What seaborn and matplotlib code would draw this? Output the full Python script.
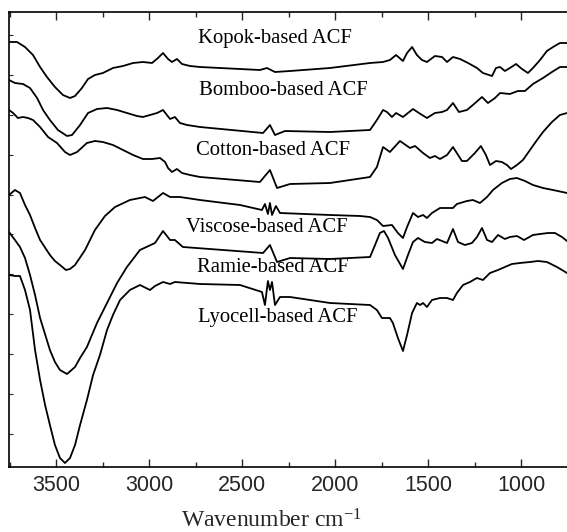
import numpy as np
import pandas as pd
import matplotlib
matplotlib.use("Agg")
import matplotlib.pyplot as plt
from matplotlib.ticker import MultipleLocator
import seaborn as sns

# ---- data (wavenumber cm^-1, offset transmittance, arbitrary units) ----
kopok_wn = [3753, 3710, 3667, 3624, 3586, 3549, 3506, 3463, 3425, 3398, 3361, 3328, 3291, 3248, 3194,
            3140, 3086, 3033, 2984, 2952, 2925, 2898, 2877, 2850, 2823, 2780, 2726, 2404, 2366, 2323,
            2242, 2027, 1812, 1742, 1705, 1672, 1635, 1613, 1586, 1560, 1533, 1506, 1463, 1425, 1398,
            1366, 1328, 1285, 1237, 1205, 1156, 1135, 1113, 1087, 1060, 1027, 995, 963, 936, 898,
            861, 828, 791, 753]
kopok_y = [425, 425, 420, 412, 400, 390, 380, 372, 369, 371, 379, 388, 392, 394, 399,
           401, 404, 405, 404, 409, 414, 408, 405, 408, 403, 401, 400, 397, 399, 395,
           396, 399, 404, 405, 407, 412, 406, 414, 420, 412, 407, 405, 411, 410, 405,
           410, 408, 404, 399, 394, 391, 399, 400, 396, 399, 403, 398, 394, 399, 407,
           416, 420, 424, 424]

bamboo_wn = [3753, 3721, 3678, 3640, 3602, 3570, 3533, 3490, 3441, 3414, 3371, 3328, 3280, 3226, 3172,
             3119, 3065, 3033, 2995, 2957, 2925, 2904, 2887, 2861, 2834, 2796, 2726, 2387, 2350, 2323,
             2269, 2027, 1812, 1775, 1742, 1721, 1694, 1672, 1635, 1581, 1549, 1506, 1463, 1425, 1398,
             1366, 1334, 1291, 1259, 1210, 1178, 1140, 1113, 1060, 1017, 979, 936, 882, 834, 791, 753]
bamboo_y = [387, 384, 383, 379, 369, 357, 347, 337, 331, 332, 342, 354, 358, 359, 357,
            354, 351, 350, 352, 354, 357, 352, 348, 350, 344, 342, 340, 334, 342, 332,
            336, 335, 337, 347, 357, 355, 350, 354, 350, 358, 354, 349, 354, 355, 357,
            364, 355, 357, 362, 370, 364, 369, 374, 373, 376, 376, 383, 389, 395, 400, 400]

cotton_wn = [3753, 3731, 3705, 3678, 3651, 3624, 3586, 3543, 3495, 3452, 3425, 3387, 3334, 3291, 3248,
             3194, 3140, 3086, 3033, 2984, 2941, 2914, 2898, 2877, 2850, 2823, 2780, 2726, 2404, 2350,
             2312, 2242, 2027, 1812, 1775, 1742, 1705, 1651, 1597, 1570, 1527, 1490, 1463, 1436, 1398,
             1366, 1318, 1291, 1248, 1216, 1189, 1167, 1135, 1103, 1076, 1054, 1022, 990, 952, 914,
             882, 834, 791, 753]
cotton_y = [357, 354, 349, 350, 349, 347, 340, 330, 324, 315, 312, 315, 324, 326, 325,
            322, 317, 312, 308, 308, 309, 305, 299, 295, 298, 294, 292, 290, 285, 297,
            279, 283, 284, 290, 300, 320, 315, 326, 319, 321, 314, 309, 311, 308, 312,
            320, 306, 306, 314, 321, 312, 302, 306, 305, 302, 298, 302, 307, 317, 327,
            335, 345, 352, 354]

viscose_wn = [3753, 3721, 3694, 3667, 3640, 3613, 3586, 3533, 3506, 3479, 3447, 3425, 3398, 3344, 3291,
              3237, 3183, 3103, 3022, 2979, 2925, 2887, 2834, 2726, 2511, 2393, 2377, 2361, 2350, 2339,
              2318, 2296, 2027, 1866, 1812, 1775, 1742, 1694, 1662, 1635, 1613, 1581, 1554, 1527, 1506,
              1479, 1436, 1398, 1366, 1345, 1291, 1259, 1221, 1183, 1151, 1103, 1060, 1022, 979, 936,
              882, 828, 753]
viscose_y = [272, 277, 274, 262, 252, 239, 227, 212, 206, 202, 197, 198, 202, 217, 237,
             251, 260, 267, 270, 266, 274, 270, 270, 267, 262, 257, 263, 253, 264, 252,
             261, 254, 252, 251, 250, 247, 241, 242, 234, 229, 240, 254, 250, 252, 249,
             254, 259, 259, 259, 263, 266, 267, 264, 270, 277, 284, 288, 289, 286, 282,
             279, 277, 274]

ramie_wn = [3753, 3721, 3694, 3667, 3640, 3613, 3586, 3533, 3506, 3479, 3441, 3398, 3371, 3334, 3280,
            3226, 3172, 3119, 3049, 2968, 2925, 2887, 2861, 2818, 2387, 2350, 2312, 2242, 2027, 1812,
            1785, 1759, 1737, 1715, 1678, 1635, 1608, 1581, 1554, 1517, 1479, 1452, 1425, 1398, 1366,
            1339, 1302, 1264, 1237, 1210, 1183, 1156, 1124, 1087, 1060, 1022, 984, 936, 898, 855,
            818, 780, 753]
ramie_y = [235, 227, 220, 209, 192, 172, 149, 117, 105, 97, 93, 100, 109, 120, 144,
           164, 184, 200, 217, 224, 236, 227, 227, 220, 214, 222, 205, 209, 208, 210,
           222, 234, 236, 229, 212, 198, 212, 225, 229, 225, 224, 228, 226, 224, 238,
           225, 222, 224, 230, 239, 227, 225, 232, 228, 230, 231, 227, 232, 233, 234,
           234, 230, 226]

lyocell_wn = [3753, 3721, 3694, 3667, 3640, 3613, 3586, 3559, 3533, 3506, 3479, 3452, 3425, 3398, 3371,
              3334, 3301, 3264, 3226, 3194, 3156, 3103, 3049, 2995, 2968, 2925, 2887, 2861, 2726, 2511,
              2393, 2377, 2361, 2350, 2339, 2323, 2296, 2242, 2027, 1812, 1775, 1748, 1705, 1689, 1662,
              1635, 1613, 1586, 1560, 1543, 1527, 1506, 1479, 1436, 1398, 1366, 1345, 1312, 1275, 1237,
              1205, 1167, 1124, 1087, 1049, 1006, 952, 909, 861, 807, 753]
lyocell_y = [192, 191, 191, 177, 157, 117, 87, 62, 42, 22, 9, 4, 9, 22, 42,
             67, 92, 112, 137, 152, 167, 177, 182, 177, 181, 185, 183, 185, 183, 182,
             175, 162, 186, 177, 185, 162, 170, 170, 164, 162, 157, 149, 149, 144, 129,
             116, 132, 154, 164, 162, 164, 160, 167, 169, 169, 167, 174, 182, 185, 189,
             187, 194, 197, 200, 203, 204, 205, 206, 205, 200, 194]

names = ["Kopok-based ACF", "Bomboo-based ACF", "Cotton-based ACF",
         "Viscose-based ACF", "Ramie-based ACF", "Lyocell-based ACF"]
wns = [kopok_wn, bamboo_wn, cotton_wn, viscose_wn, ramie_wn, lyocell_wn]
ys = [kopok_y, bamboo_y, cotton_y, viscose_y, ramie_y, lyocell_y]

# label anchor (wavenumber, level)
label_wn = [2323, 2280, 2334, 2366, 2334, 2307]
label_y = [424, 372, 312, 235, 195, 145]

frames = []
for n, w, y in zip(names, wns, ys):
    frames.append(pd.DataFrame({"wn": w, "T": y, "sample": n}))
df = pd.concat(frames, ignore_index=True)

sns.set_style("ticks")
plt.rcParams["font.family"] = ["Liberation Sans", "DejaVu Sans"]
plt.rcParams["mathtext.fontset"] = "custom"
plt.rcParams["mathtext.rm"] = "Liberation Serif"
plt.rcParams["mathtext.it"] = "Liberation Serif:italic"

fig = plt.figure(figsize=(5.67, 5.32), dpi=100)
ax = fig.add_axes([9 / 567, 1 - 467 / 532, 1 - 9 / 567, (467 - 12) / 532])

sns.lineplot(data=df, x="wn", y="T", units="sample", estimator=None,
             color="black", linewidth=1.3, sort=True, ax=ax, legend=False)

ax.set_xlim(3753, 753)
ax.set_ylim(0, 455)
ax.xaxis.set_minor_locator(MultipleLocator(250))
ax.set_xticks([3500, 3000, 2500, 2000, 1500, 1000])
ax.set_yticks(np.arange(33, 455, 39.9))
ax.set_yticklabels([])
ax.tick_params(axis="x", which="major", direction="in", length=6, width=1,
               top=True, bottom=True, labelsize=15.5, pad=6)
ax.tick_params(axis="x", which="minor", direction="in", length=3.5, width=1,
               top=True, bottom=True)
ax.tick_params(axis="y", which="major", direction="in", length=3, width=0.8, left=True, right=False)
for s in ["left", "bottom", "top"]:
    ax.spines[s].set_linewidth(1.2)
    ax.spines[s].set_color("black")
ax.spines["right"].set_visible(False)

ax.set_ylabel("")
ax.set_xlabel("Wavenumber cm$^{-1}$", fontsize=17, family="Liberation Serif", va="baseline")
ax.xaxis.set_label_coords((271 - 9) / 558, (467 - 528) / 455)

for n, lw_, ly in zip(names, label_wn, label_y):
    ax.text(lw_, ly, n, ha="center", va="baseline", fontsize=14.9,
            family="Liberation Serif", color="black")

fig.savefig("out.png", dpi=100)
